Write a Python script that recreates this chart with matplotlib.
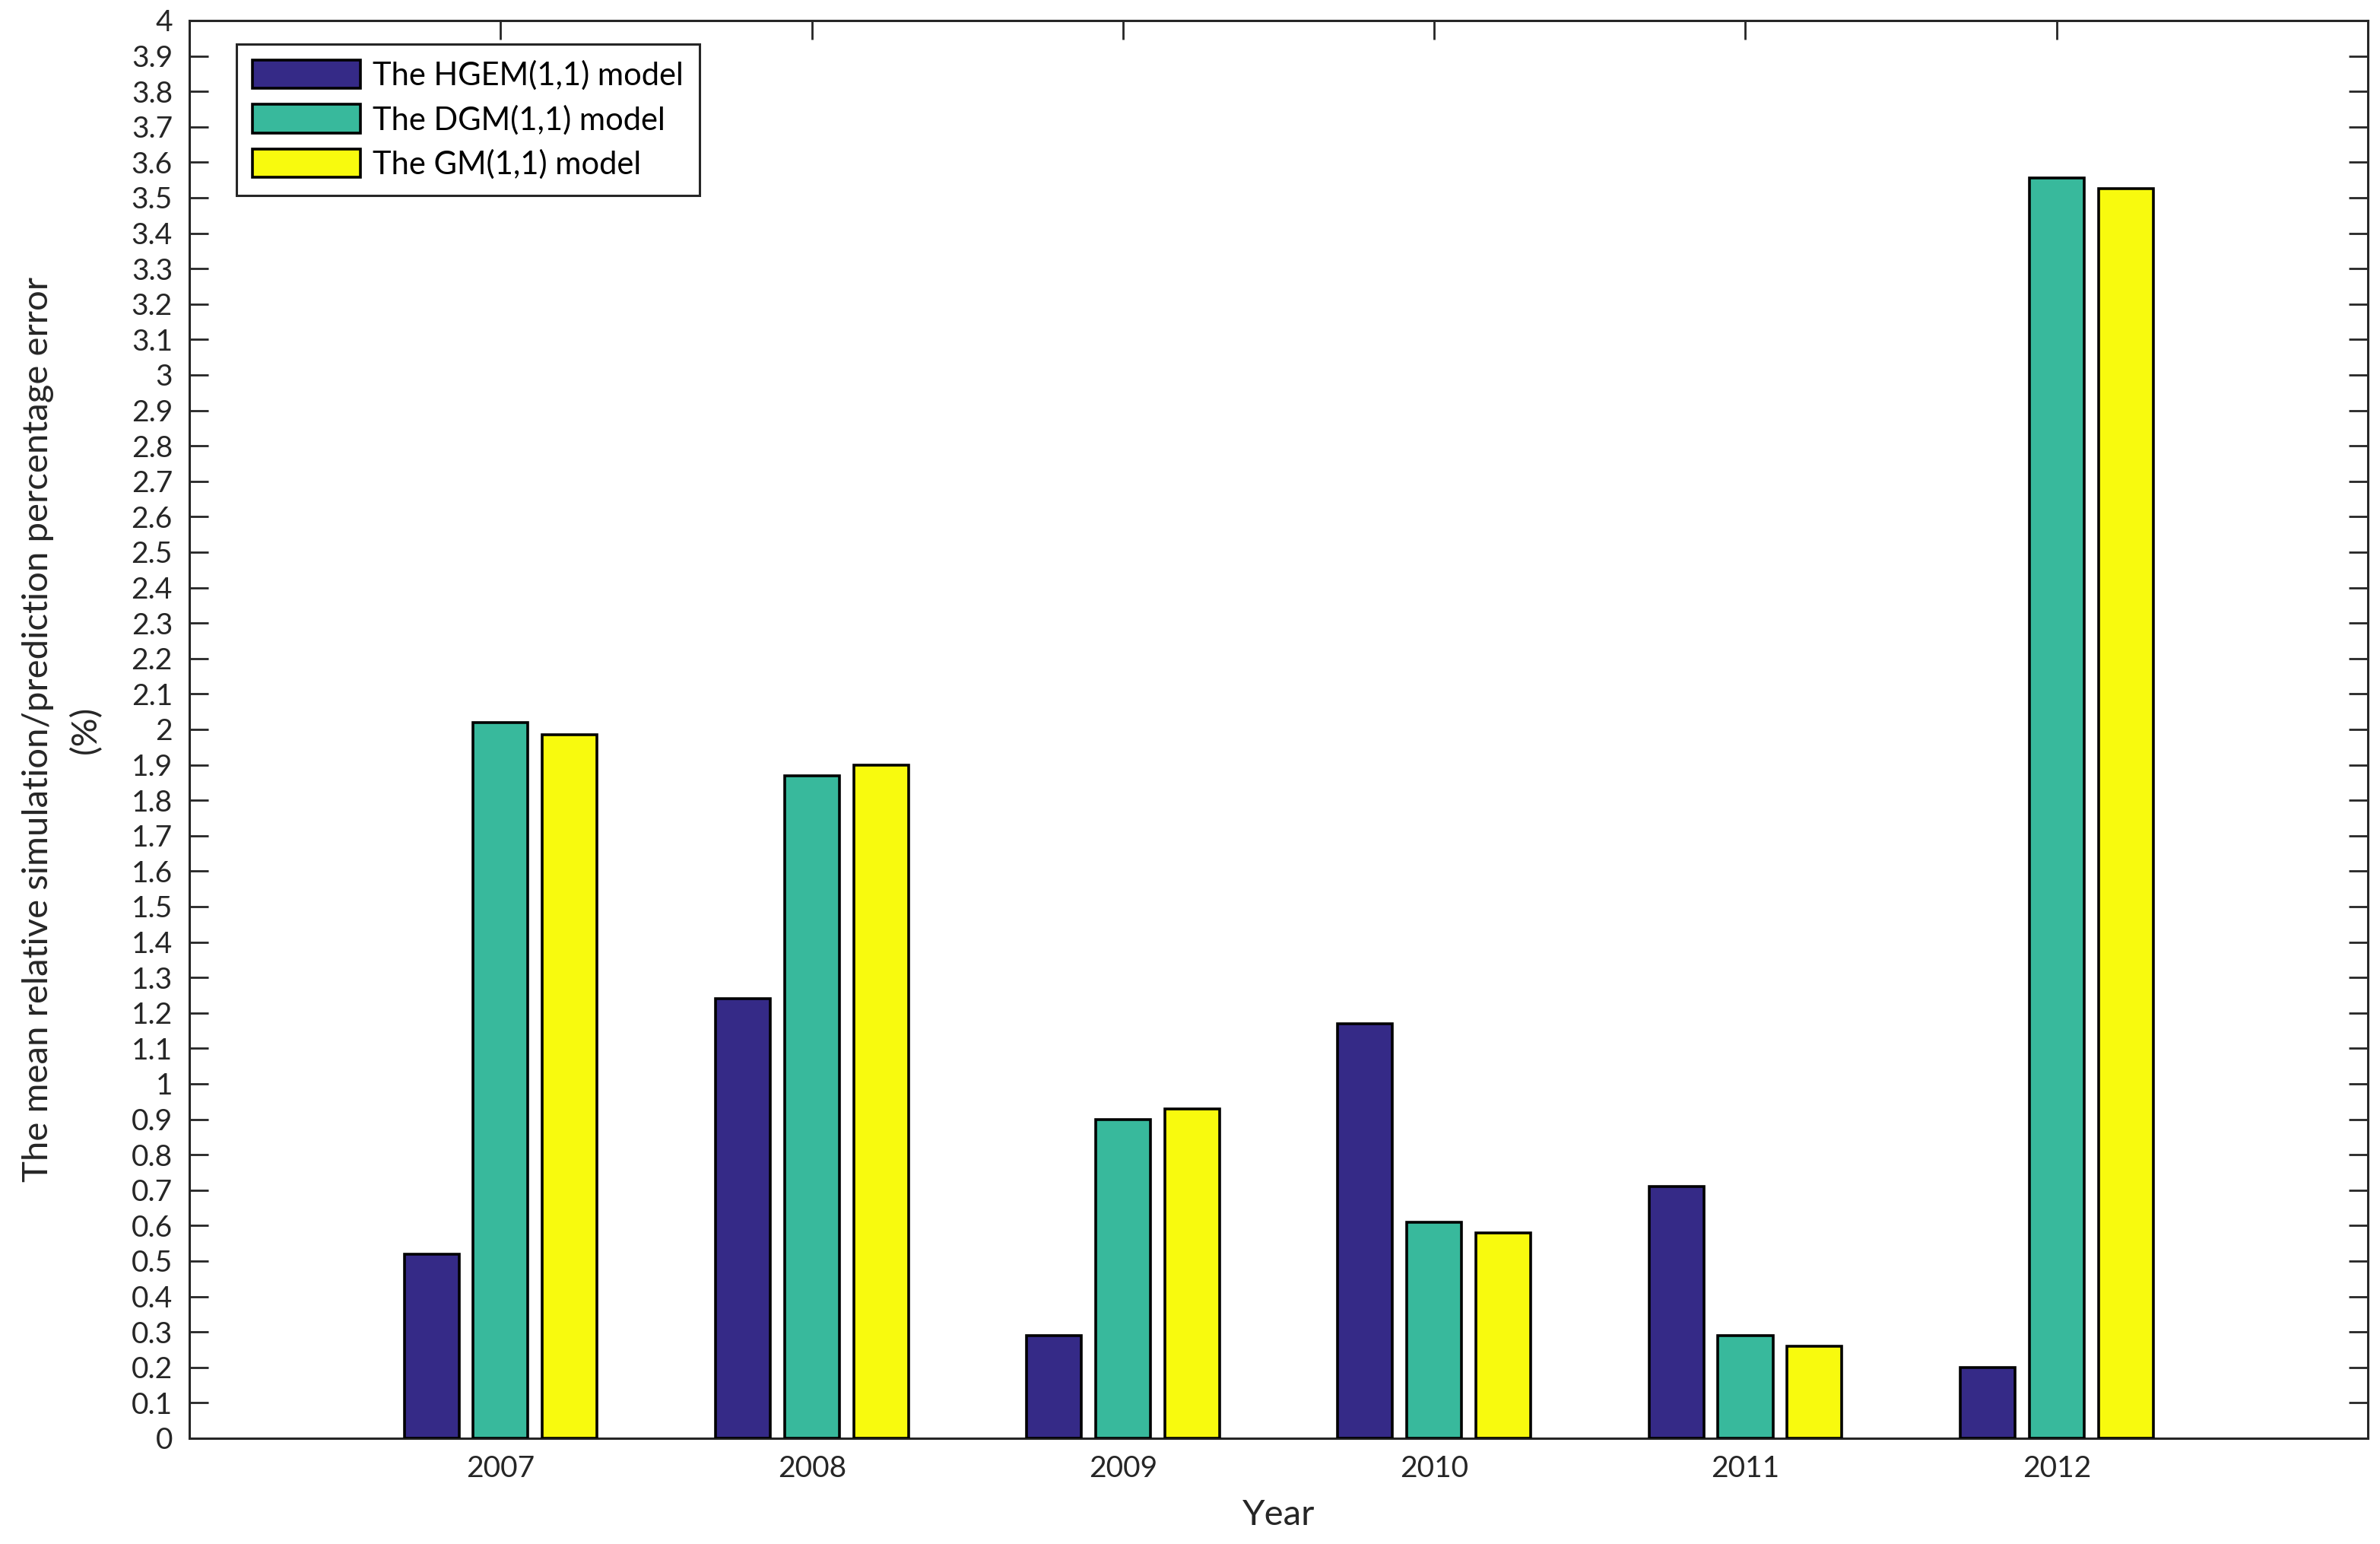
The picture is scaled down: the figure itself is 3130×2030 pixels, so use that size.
import numpy as np
import matplotlib.pyplot as plt

plt.rcParams['font.family'] = ['Lato', 'DejaVu Sans']

years = ['2007', '2008', '2009', '2010', '2011', '2012']
hgem = [0.52, 1.24, 0.29, 1.17, 0.71, 0.20]
dgm = [2.02, 1.87, 0.90, 0.61, 0.29, 3.555]
gm = [1.985, 1.90, 0.93, 0.58, 0.26, 3.525]
labels = ['The HGEM(1,1) model', 'The DGM(1,1) model', 'The GM(1,1) model']
colors = ['#352A87', '#38B99C', '#F8FA0E']

fig = plt.figure(figsize=(15.65, 10.15), dpi=200)
ax = fig.add_axes([0.0796, 0.0685, 0.9153, 0.9182])

x = np.arange(1, len(years) + 1)
w = 0.176
off = 0.222
for i, (vals, lab, c) in enumerate(zip([hgem, dgm, gm], labels, colors)):
    ax.bar(x + (i - 1) * off, vals, w, color=c, edgecolor='black',
           linewidth=1.3, label=lab, zorder=3)

ax.set_xlim(0, 7)
ax.set_ylim(0, 4)
ax.set_xticks(x)
ax.set_xticklabels(years)
yt = np.round(np.arange(0, 4.01, 0.1), 1)
ax.set_yticks(yt)
ax.set_yticklabels(['%g' % v for v in yt])

ax.tick_params(direction='in', length=9, width=1, top=True, right=True,
               labelsize=14, colors='#262626', pad=8)
for s in ax.spines.values():
    s.set_color('#262626')
    s.set_linewidth(1.1)

ax.set_xlabel('Year', fontsize=17, color='#262626', labelpad=8)
ax.set_ylabel('The mean relative simulation/prediction percentage error\n(%)',
              fontsize=17, color='#262626', labelpad=14, linespacing=1.55)

leg = ax.legend(loc='upper left', bbox_to_anchor=(0.0216, 0.9834),
                borderaxespad=0, fontsize=15, handlelength=3.4,
                handleheight=1.0, labelspacing=0.45, fancybox=False,
                framealpha=1, edgecolor='#262626', borderpad=0.5,
                handletextpad=0.4)
leg.get_frame().set_linewidth(1.1)

plt.savefig('out.png', dpi=200)
